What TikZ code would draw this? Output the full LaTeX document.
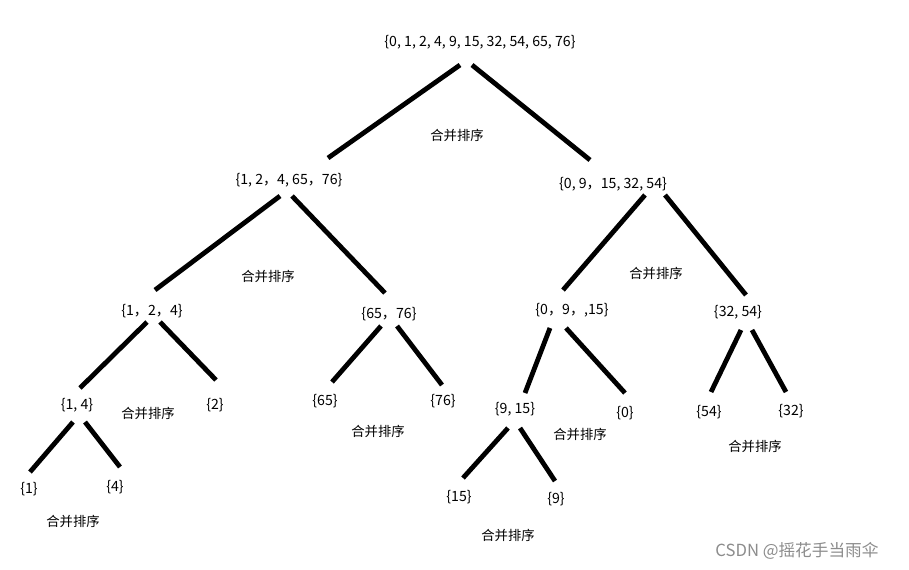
\documentclass[tikz,border=0pt]{standalone}
\usepackage{fontspec}
\setmainfont{Noto Sans CJK SC}
\begin{document}
\begin{tikzpicture}[x=0.75pt,y=-0.75pt,
  lab/.style={inner sep=1pt,font=\fontsize{10.6}{12}\selectfont},
  op/.style={inner sep=1pt,font=\fontsize{10}{12}\selectfont},
  br/.style={line width=3.6pt}]
\useasboundingbox[fill=white] (0,0) rectangle (909,569);
\node[lab] (root) at (480,42) {\{0, 1, 2, 4, 9, 15, 32, 54, 65, 76\}};
\node[lab] (l1) at (289,180) {\{1, 2，4, 65，76\}};
\node[lab] (r1) at (613,184) {\{0, 9，15, 32, 54\}};
\node[lab] (l2a) at (152,311) {\{1，2，4\}};
\node[lab] (l2b) at (389,314) {\{65，76\}};
\node[lab] (r2a) at (572,310) {\{0，9，,15\}};
\node[lab] (r2b) at (738,312) {\{32, 54\}};
\node[lab] (n14) at (77,405) {\{1, 4\}};
\node[lab] (n2) at (215,405) {\{2\}};
\node[lab] (n65) at (325,401) {\{65\}};
\node[lab] (n76) at (443,401) {\{76\}};
\node[lab] (n915) at (515,409) {\{9, 15\}};
\node[lab] (n0) at (625,413) {\{0\}};
\node[lab] (n54) at (709,412) {\{54\}};
\node[lab] (n32) at (791,411) {\{32\}};
\node[lab] (n1) at (29,489) {\{1\}};
\node[lab] (n4) at (115,487) {\{4\}};
\node[lab] (n15) at (459,497) {\{15\}};
\node[lab] (n9) at (556,499) {\{9\}};
\node[op] (o1) at (457,135) {合并排序};
\node[op] (o2) at (268,276) {合并排序};
\node[op] (o3) at (656,273) {合并排序};
\node[op] (o4) at (148,413) {合并排序};
\node[op] (o5) at (378,431) {合并排序};
\node[op] (o6) at (580,434) {合并排序};
\node[op] (o7) at (755,446) {合并排序};
\node[op] (o8) at (73,521) {合并排序};
\node[op] (o9) at (508,535) {合并排序};
\node[inner sep=0pt,text=black!45,font=\fontsize{12.5}{14}\selectfont] (wm) at (797,551) {CSDN @摇花手当雨伞};
\coordinate (a1) at (460,65); \coordinate (b1) at (328,158);
\draw[br] (a1) -- (b1);
\coordinate (a2) at (472,65); \coordinate (b2) at (590,160);
\draw[br] (a2) -- (b2);
\draw[br] (280,196) coordinate (a3) -- (155,290) coordinate (b3);
\draw[br] (292,196) coordinate (a4) -- (385,293) coordinate (b4);
\draw[br] (645,195) coordinate (a5) -- (563,290) coordinate (b5);
\draw[br] (665,195) coordinate (a6) -- (746,295) coordinate (b6);
\draw[br] (147,322) coordinate (a7) -- (80,388) coordinate (b7);
\draw[br] (160,322) coordinate (a8) -- (216,380) coordinate (b8);
\draw[br] (381,326) coordinate (a9) -- (332,382) coordinate (b9);
\draw[br] (397,326) coordinate (a10) -- (442,385) coordinate (b10);
\draw[br] (550,328) coordinate (a11) -- (525,393) coordinate (b11);
\draw[br] (566,328) coordinate (a12) -- (625,393) coordinate (b12);
\draw[br] (741,330) coordinate (a13) -- (711,392) coordinate (b13);
\draw[br] (752,330) coordinate (a14) -- (786,392) coordinate (b14);
\draw[br] (73,422) coordinate (a15) -- (30,472) coordinate (b15);
\draw[br] (85,422) coordinate (a16) -- (120,467) coordinate (b16);
\draw[br] (508,428) coordinate (a17) -- (463,478) coordinate (b17);
\draw[br] (520,428) coordinate (a18) -- (555,481) coordinate (b18);
\end{tikzpicture}
\end{document}
